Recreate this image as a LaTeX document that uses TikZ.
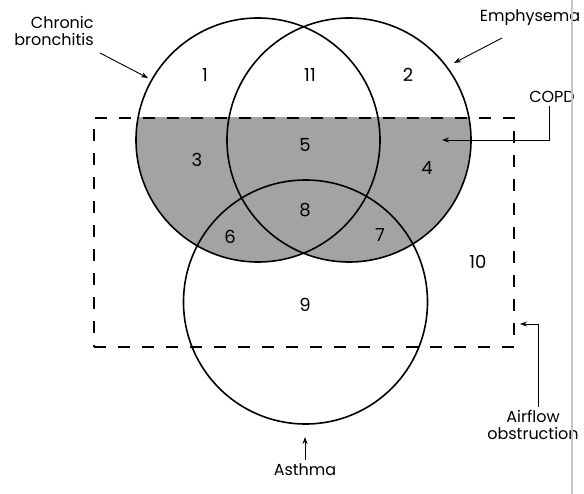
\documentclass[tikz,border=0pt]{standalone}
\usepackage{fontspec}
\setmainfont{Poppins}
\usetikzlibrary{arrows.meta,positioning,calc}

\begin{document}
\begin{tikzpicture}[x=1pt, y=-1pt,
  every node/.style={font=\fontsize{16}{20}\selectfont},
  region/.style={font=\fontsize{18}{20}\selectfont},
  venn/.style={circle, draw, line width=1.6pt, minimum size=244pt, inner sep=0pt},
  dashbox/.style={draw, line width=1.6pt, dash pattern=on 12pt off 12pt, inner sep=0pt},
  pointer/.style={-{Stealth[length=7pt, width=5pt]}, line width=0.9pt},
]
\useasboundingbox (0,0) rectangle (584,494);

% COPD shading (inside the box, within bronchitis or emphysema)
\begin{scope}
  \clip (94,118) rectangle (514,347);
  \fill[gray!72] (258,140) circle[radius=122] (349,140) circle[radius=122];
\end{scope}

% Airflow obstruction box
\node[dashbox, minimum width=420pt, minimum height=229pt] (ao) at (304,232.5) {};

% The three circles
\node[venn] (cb) at (258,140) {};
\node[venn] (em) at (349,140) {};
\node[venn] (as) at (305.5,302) {};

% Region numbers
\node[region] (r1) at (205,75) {1};
\node[region] (r11) at (310,75) {11};
\node[region] (r2) at (408,75) {2};
\node[region] (r3) at (197,160) {3};
\node[region] (r5) at (305,145) {5};
\node[region] (r4) at (427,168) {4};
\node[region] (r8) at (305,210) {8};
\node[region] (r6) at (230,237) {6};
\node[region] (r7) at (380,235) {7};
\node[region] (r10) at (478,262) {10};
\node[region] (r9) at (305,305) {9};

% Labels
\node[align=right] (cblabel) at (54,31) {Chronic\\[-3pt]bronchitis};
\node (emlabel) at (530,18) {Emphysema};
\node (copdlabel) at (552,97) {COPD};
\node[align=center] (aolabel) at (533,425) {Airflow\\[-3pt]obstruction};
\node (aslabel) at (305,470) {Asthma};

% Pointers
\coordinate (cbtip) at (148,78);
\coordinate (emtip) at (454,63);
\coordinate (copdtip) at (442,140);
\coordinate (aotip) at (520,324);
\coordinate (astip) at (305,437);
\draw[pointer] (100,53) -- (cbtip);
\draw[pointer] (502,38) -- (emtip);
\draw[pointer] (copdlabel.south -| 549,0) |- (copdtip);
\draw[pointer] (aolabel.north -| 538,0) |- (aotip);
\draw[pointer] (aslabel.north) -- (astip);

% page edge
\draw[gray!45, line width=1.2pt] (572,0) -- (572,494);

\end{tikzpicture}
\end{document}
